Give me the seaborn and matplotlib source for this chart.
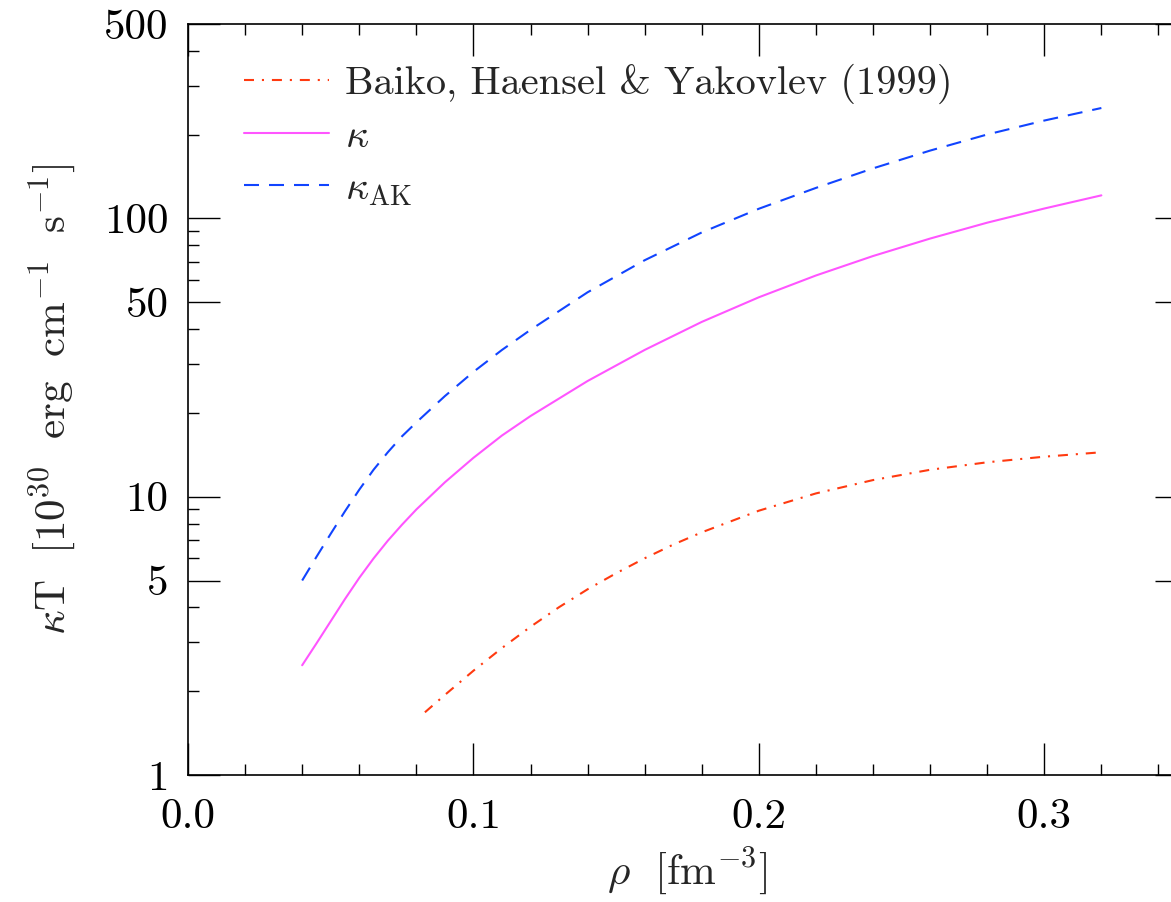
import numpy as np
import pandas as pd
import seaborn as sns
import matplotlib.pyplot as plt
from matplotlib.ticker import LogLocator, NullFormatter

# values (rho in fm^-3, kappa*T in 1e30 erg cm^-1 s^-1)
rho_bhy = [0.083, 0.09, 0.10, 0.11, 0.12, 0.13, 0.14, 0.15, 0.16, 0.17, 0.18,
           0.20, 0.22, 0.24, 0.26, 0.28, 0.30, 0.32]
kt_bhy = [1.68, 1.94, 2.37, 2.86, 3.41, 4.01, 4.65, 5.31, 6.01, 6.73, 7.45,
          8.91, 10.28, 11.48, 12.5, 13.3, 13.93, 14.45]

rho = [0.04, 0.045, 0.05, 0.055, 0.06, 0.065, 0.07, 0.075, 0.08, 0.09, 0.10,
       0.11, 0.12, 0.14, 0.16, 0.18, 0.20, 0.22, 0.24, 0.26, 0.28, 0.30, 0.32]
kt_kappa = [2.48, 2.97, 3.57, 4.29, 5.11, 6.0, 6.95, 7.94, 9.0, 11.27, 13.8,
            16.6, 19.5, 26.06, 33.7, 42.5, 52.1, 62.4, 73.3, 84.7, 96.6, 108.6, 121.1]
kt_ak = [5.0, 6.08, 7.36, 8.87, 10.6, 12.5, 14.45, 16.5, 18.5, 23.0, 28.1,
         33.7, 39.8, 54.3, 70.8, 89.1, 108.4, 128.8, 151.4, 175.4, 200.4, 224.9, 249.5]

xticks = [0.0, 0.1, 0.2, 0.3]
xtick_labels = ["0.0", "0.1", "0.2", "0.3"]
yticks = [1, 5, 10, 50, 100, 500]
ytick_labels = ["1", "5", "10", "50", "100", "500"]

labels = ["Baiko, Haensel & Yakovlev (1999)", r"$\kappa$", r"$\kappa_{\rm AK}$"]

sns.set_style("ticks")
plt.rcParams["font.family"] = "serif"
plt.rcParams["font.serif"] = ["cmr10", "DejaVu Serif"]
plt.rcParams["mathtext.fontset"] = "cm"
plt.rcParams["axes.unicode_minus"] = False
plt.rcParams["axes.formatter.use_mathtext"] = True

fig = plt.figure(figsize=(11.71, 9.02), dpi=100)
ax = fig.add_axes([188 / 1171, 127 / 902, 999 / 1171, 751 / 902])

sns.lineplot(x=rho_bhy, y=kt_bhy, ax=ax, color="#ff3a10", lw=1.5,
             linestyle=(0, (4.8, 3.8, 1.0, 3.8)), label=labels[0])
sns.lineplot(x=rho, y=kt_kappa, ax=ax, color="#ff55ff", lw=1.5,
             linestyle="-", label=labels[1])
sns.lineplot(x=rho, y=kt_ak, ax=ax, color="#1144ff", lw=1.5,
             linestyle=(0, (7.2, 4.8)), label=labels[2])

ax.set_yscale("log")
ax.set_xlim(0, 0.35)
ax.set_ylim(1, 500)

ax.set_xticks(xticks)
ax.set_xticklabels(xtick_labels)
ax.set_xticks(np.arange(0, 0.351, 0.02), minor=True)
ax.set_yticks(yticks)
ax.set_yticklabels(ytick_labels)
ax.yaxis.set_minor_locator(LogLocator(subs=[2, 3, 4, 6, 7, 8, 9]))
ax.yaxis.set_minor_formatter(NullFormatter())

ax.tick_params(which="both", direction="in", top=True, right=True,
               width=1.0, colors="black", labelsize=31)
ax.tick_params(which="major", length=23, pad=14)
ax.tick_params(which="minor", length=8)
ax.tick_params(axis="x", which="major", pad=17)
for s in ax.spines.values():
    s.set_linewidth(1.2)
    s.set_color("black")

ax.set_xlabel(r"$\rho\ \ [\mathrm{fm}^{-3}]$", fontsize=31, labelpad=7)
ax.set_ylabel(r"$\kappa\mathrm{T}\ \ [10^{30}\ \ \mathrm{erg\ \ cm^{-1}\ \ s^{-1}}]$",
              fontsize=31, labelpad=18)

ax.legend(loc="upper left", frameon=False, fontsize=29, handlelength=2.1,
          handletextpad=0.4, labelspacing=0.38, borderaxespad=0.3,
          bbox_to_anchor=(0.028, 0.985))

fig.savefig("out.png", dpi=100)
plt.close(fig)
